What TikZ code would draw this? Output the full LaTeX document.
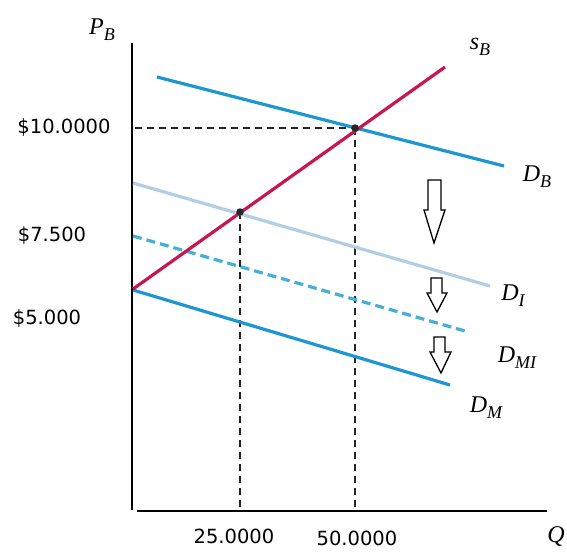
\documentclass[tikz,border=0pt]{standalone}
\usepackage{fontspec}
\setmainfont{DejaVu Sans}
\newfontfamily\labf{Liberation Serif}
\newcommand\mylab[2]{{\fontsize{24}{26}\selectfont\labf\itshape #1}\raisebox{-6pt}{\fontsize{18}{20}\selectfont\labf\itshape #2}}
\begin{document}
\begin{tikzpicture}[x=1pt,y=-1pt,
  axis/.style={line width=2.7pt,black},
  guide/.style={line width=1.9pt,black!85,dash pattern=on 7pt off 5pt},
  curveD/.style={line width=3.2pt,color=dblue},
  curveI/.style={line width=3.2pt,color=lblue},
  curveMI/.style={line width=3.2pt,color=mblue,dash pattern=on 9pt off 5pt},
  curveS/.style={line width=3.2pt,color=sred},
  tick/.style={font=\fontsize{19.5}{21}\selectfont,inner sep=0pt},
  lab/.style={inner sep=0pt},
  dot/.style={circle,fill=black!85,inner sep=0pt,minimum size=7.5pt},
  shiftarrow/.style={draw=black,line width=1.3pt,fill=white,line join=miter}
]
\definecolor{dblue}{RGB}{30,150,210}
\definecolor{lblue}{RGB}{178,206,228}
\definecolor{mblue}{RGB}{70,175,215}
\definecolor{sred}{RGB}{200,22,82}
\useasboundingbox (0,0) rectangle (567,552);

% axes
\coordinate (o) at (132,511);
\coordinate (ytop) at (132,43);
\coordinate (xend) at (547,511);
\draw[axis] (ytop) -- (132,510);
\draw[axis] (137,511) -- (xend);

% equilibrium points
\coordinate (e1) at (355,128);
\coordinate (e2) at (240,212);
\coordinate (e1y) at (135,128);
\coordinate (e1x) at (355,509);
\coordinate (e2x) at (240,509);
\draw[guide] (e1y) -- (e1);
\draw[guide] (e1) -- (e1x);
\draw[guide] (e2) -- (e2x);

% curves
\coordinate (dbs) at (157,77);  \coordinate (dbe) at (504,166);
\coordinate (dis) at (133,183); \coordinate (die) at (490,286);
\coordinate (dmis) at (133,236); \coordinate (dmie) at (465,331);
\coordinate (dms) at (133,290); \coordinate (dme) at (450,385);
\coordinate (ss) at (133,289);  \coordinate (se) at (445,67);
\draw[curveI] (dis) -- (die);
\draw[curveMI] (dmis) -- (dmie);
\draw[curveD] (dms) -- (dme);
\draw[curveD] (dbs) -- (dbe);
\draw[curveS] (ss) -- (se);
\node[dot] (d1) at (e1) {};
\node[dot] (d2) at (e2) {};

% shift arrows
\draw[shiftarrow] (428,180) -- (441,180) -- (441,210) -- (445,210) -- (434,243) -- (424,210) -- (428,210) -- cycle;
\draw[shiftarrow] (431,278) -- (442,278) -- (442,293) -- (447,293) -- (437,312) -- (427,293) -- (431,293) -- cycle;
\draw[shiftarrow] (434,337) -- (445,337) -- (445,352) -- (451,352) -- (441,373) -- (430,352) -- (434,352) -- cycle;

% labels
\node[lab] (pb) at (102,30) {\mylab{P}{B}};
\node[lab] (sb) at (480,47) {\mylab{s}{B}};
\node[lab] (lDB) at (537,177) {\mylab{D}{B}};
\node[lab] (lDI) at (513,296) {\mylab{D}{I}};
\node[lab] (lDMI) at (517,358) {\mylab{D}{MI}};
\node[lab] (lDM) at (486,408) {\mylab{D}{M}};
\node[lab] (q) at (556,538) {\mylab{Q}{}};
\node[tick] (t10) at (64,128) {\$10.0000};
\node[tick] (t75) at (52,236) {\$7.500};
\node[tick] (t5) at (47,319) {\$5.000};
\node[tick] (t25) at (234,536) {25.0000};
\node[tick] (t50) at (357,538) {50.0000};
\end{tikzpicture}
\end{document}
